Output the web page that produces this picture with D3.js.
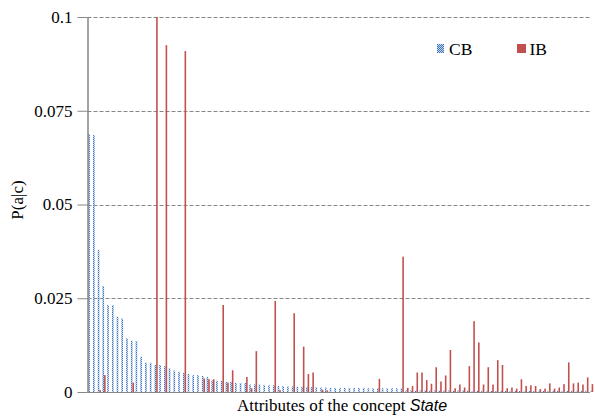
<!DOCTYPE html>
<html>
<head>
<meta charset="utf-8">
<script src="https://cdn.jsdelivr.net/npm/d3@7"></script>
<style>
  body { margin: 0; background: #fff; }
  svg { display: block; }
</style>
</head>
<body>
<div id="chart"></div>
<script>
// P(a|c) for the attributes of the concept "State", ranked by CB
var cbValues = [
  0.0688, 0.0685, 0.0379, 0.0283, 0.0232, 0.0232, 0.0201, 0.0196, 0.0143, 0.0137,
  0.0136, 0.0094, 0.0078, 0.0078, 0.0072, 0.0072, 0.0069, 0.0063, 0.0057, 0.0054,
  0.0051, 0.0048, 0.0045, 0.0045, 0.0043, 0.0040, 0.0031, 0.0030, 0.0030, 0.0027,
  0.0027, 0.0024, 0.0024, 0.0024, 0.0020, 0.0020, 0.0020, 0.0019, 0.0018, 0.0018,
  0.0016, 0.0016, 0.0015, 0.0015, 0.0014, 0.0014, 0.0013, 0.0013, 0.0013, 0.0012,
  0.0012, 0.0011, 0.0011, 0.0011, 0.0011, 0.0011, 0.0011, 0.0011, 0.0011, 0.0010,
  0.0010, 0.0010, 0.0010, 0.0010, 0.0010, 0.0010, 0.0010, 0.0004, 0.0004, 0.0004,
  0.0004, 0.0004, 0.0004, 0.0004, 0.0004, 0.0004, 0.0004, 0.0004, 0.0004, 0.0004,
  0.0004, 0.0003, 0.0003, 0.0003, 0.0003, 0.0003, 0.0003, 0.0003, 0.0003, 0.0003,
  0.0003, 0.0003, 0.0003, 0.0003, 0.0003, 0.0003, 0.0003, 0.0003, 0.0003, 0.0003,
  0.0003, 0.0003, 0.0003, 0.0003, 0.0003, 0.0003, 0.0003
];
var ibValues = [
  0, 0, 0.0005, 0.0045, 0, 0, 0, 0, 0, 0.0025,
  0, 0, 0, 0, 0.1, 0, 0.0925, 0, 0, 0,
  0.0909, 0, 0, 0, 0.0036, 0.0034, 0.0034, 0, 0.0232, 0.0025,
  0.0058, 0, 0, 0.0040, 0.0010, 0.0109, 0, 0, 0, 0.0243,
  0.0005, 0, 0, 0.0210, 0, 0.0121, 0.0048, 0.0052, 0, 0.0006,
  0.0004, 0, 0, 0, 0, 0, 0, 0, 0, 0,
  0, 0.0035, 0, 0, 0, 0, 0.0361, 0.0011, 0.0016, 0.0052,
  0.0052, 0.0032, 0.0022, 0.0066, 0.0028, 0.0044, 0.0112, 0.0010, 0.0020, 0.0012,
  0.0069, 0.0189, 0.0132, 0.0020, 0.0066, 0.0020, 0.0085, 0.0072, 0.0010, 0.0012,
  0.0009, 0.0034, 0.0016, 0.0018, 0.0016, 0.0008, 0.0009, 0.0023, 0.0009, 0.0012,
  0.0021, 0.0079, 0.0023, 0.0025, 0.0020, 0.0039, 0.0021
];
var seriesNames = ["CB", "IB"];
var yTicks = [0, 0.025, 0.05, 0.075, 0.1];
var yTickLabels = ["0", "0.025", "0.05", "0.075", "0.1"];

var serif = "Liberation Serif";
var width = 595, height = 416;
var margin = { top: 17, right: 1, bottom: 24, left: 87.5 };

var svg = d3.select("#chart").append("svg")
  .attr("width", width)
  .attr("height", height)
  .style("font-family", serif);

// checkered fill for CB
var defs = svg.append("defs");
var pat = defs.append("pattern")
  .attr("id", "cbPattern")
  .attr("patternUnits", "userSpaceOnUse")
  .attr("width", 2).attr("height", 2);
pat.append("rect").attr("width", 2).attr("height", 2).attr("fill", "#c4d6ee");
pat.append("rect").attr("width", 1).attr("height", 1).attr("fill", "#3f74b8");
pat.append("rect").attr("x", 1).attr("y", 1).attr("width", 1).attr("height", 1).attr("fill", "#3f74b8");

var x = d3.scaleBand()
  .domain(d3.range(cbValues.length))
  .range([margin.left, width - margin.right]);

var xSub = d3.scaleBand()
  .domain(seriesNames)
  .range([0, x.bandwidth()])
  .paddingOuter(0.5);

var y = d3.scaleLinear()
  .domain([0, 0.1])
  .range([height - margin.bottom, margin.top]);

// gridlines
svg.append("g").selectAll("line")
  .data(yTicks.filter(function (d) { return d > 0; }))
  .enter().append("line")
  .attr("x1", margin.left)
  .attr("x2", 590)
  .attr("y1", function (d) { return Math.round(y(d)) + 0.5; })
  .attr("y2", function (d) { return Math.round(y(d)) + 0.5; })
  .attr("stroke", "#868686")
  .attr("stroke-dasharray", "4,2");

// bars
var series = [
  { name: "CB", values: cbValues, fill: "url(#cbPattern)" },
  { name: "IB", values: ibValues, fill: "#c0504d" }
];
series.forEach(function (s) {
  svg.append("g").selectAll("rect")
    .data(s.values)
    .enter().append("rect")
    .attr("x", function (d, i) { return x(i) + xSub(s.name); })
    .attr("width", xSub.bandwidth())
    .attr("y", function (d) { return y(d); })
    .attr("height", function (d) { return y(0) - y(d); })
    .attr("fill", s.fill);
});

// axes
var yAxis = d3.axisLeft(y)
  .tickValues(yTicks)
  .tickFormat(function (d, i) { return yTickLabels[i]; })
  .tickSize(10)
  .tickSizeOuter(0)
  .tickPadding(5);

var gy = svg.append("g")
  .attr("transform", "translate(" + margin.left + ",0)")
  .call(yAxis);
gy.select(".domain").attr("stroke", "#868686").attr("stroke-width", 1.5);
gy.selectAll(".tick line").attr("stroke", "#868686");
gy.selectAll(".tick text")
  .attr("fill", "#000")
  .style("font-family", serif)
  .style("font-size", "17px");

svg.append("line")
  .attr("x1", margin.left).attr("x2", 590)
  .attr("y1", y(0) + 0.5).attr("y2", y(0) + 0.5)
  .attr("stroke", "#868686");

// axis titles
svg.append("text")
  .attr("transform", "translate(23,200) rotate(-90)")
  .attr("text-anchor", "middle")
  .style("font-size", "17px")
  .text("P(a|c)");

var xt = svg.append("text")
  .attr("x", 342)
  .attr("y", 411)
  .attr("text-anchor", "middle")
  .style("font-size", "17px");
xt.append("tspan").text("Attributes of the concept ");
xt.append("tspan")
  .style("font-family", "Liberation Sans")
  .style("font-style", "italic")
  .style("font-size", "16px")
  .text("State");

// legend
var legend = [
  { name: "CB", fill: "url(#cbPattern)", x: 437 },
  { name: "IB", fill: "#c0504d", x: 517 }
];
var lg = svg.append("g").selectAll("g")
  .data(legend)
  .enter().append("g")
  .attr("transform", function (d) { return "translate(" + d.x + ",44)"; });
lg.append("rect")
  .attr("width", function (d) { return d.name === "CB" ? 7 : 9; })
  .attr("height", 9)
  .attr("fill", function (d) { return d.fill; });
lg.append("text")
  .attr("x", function (d) { return d.name === "CB" ? 12 : 12.5; })
  .attr("y", 11)
  .style("font-size", "17.5px")
  .text(function (d) { return d.name; });
</script>
</body>
</html>
